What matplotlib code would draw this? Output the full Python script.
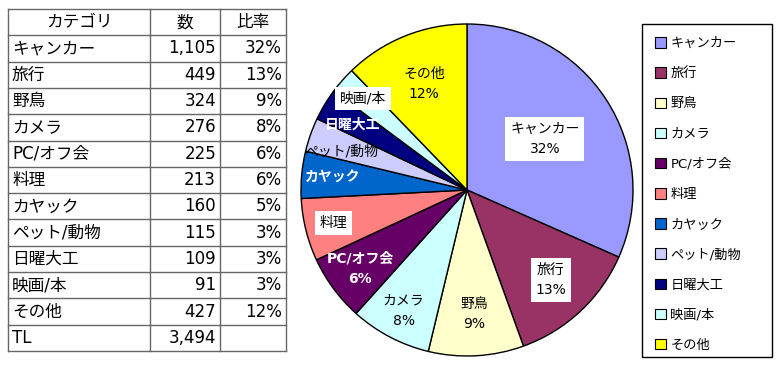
import matplotlib
matplotlib.use('Agg')
import matplotlib.pyplot as plt
from matplotlib.patches import Patch, Rectangle
import numpy as np

plt.rcParams['font.family'] = ['DejaVu Sans', 'Noto Sans CJK JP']

# ---- data ----
categories = ['キャンカー', '旅行', '野鳥', 'カメラ', 'PC/オフ会', '料理',
              'カヤック', 'ペット/動物', '日曜大工', '映画/本', 'その他']
counts = [1105, 449, 324, 276, 225, 213, 160, 115, 109, 91, 427]
colors = ['#9999FF', '#993366', '#FFFFCC', '#CCFFFF', '#660066', '#FF8080',
          '#0066CC', '#CCCCFF', '#000080', '#CCFFFF', '#FFFF00']
header = ['カテゴリ', '数', '比率']
total_label = 'TL'

total = sum(counts)
pcts = [round(100 * v / total) for v in counts]

# ---- label styles (per slice) ----
label_r = [0.56, 0.74, 0.75, 0.82, 0.80, 0.83, 0.81, 0.79, 0.795, 0.835, 0.69]
label_dang = [0, 0, 0, 0, 0, 0, 0, 2.5, 1.5, 0, 0]
show_pct = [True, True, True, True, True, False, False, False, False, False, True]
label_color = ['black', 'black', 'black', 'black', 'white', 'black',
               'white', 'black', 'white', 'black', 'black']
label_bold = [False, False, False, False, True, False, True, False, True, False, False]
label_box = [True, True, False, False, False, True, False, False, False, True, False]

W, H = 780, 370
fig = plt.figure(figsize=(7.8, 3.7), dpi=100)

# ---- table ----
col_edges = [8, 150, 220, 286]
ty0, ty1 = 9, 351
nrows = len(categories) + 2
tab = fig.add_axes([col_edges[0] / W, 1 - ty1 / H,
                    (col_edges[-1] - col_edges[0]) / W, (ty1 - ty0) / H])
tab.set_xlim(col_edges[0], col_edges[-1])
tab.set_ylim(nrows, 0)
tab.axis('off')

lc = '#666666'
for i in range(nrows + 1):
    tab.plot([col_edges[0], col_edges[-1]], [i, i], color=lc, lw=1.0, clip_on=False)
for x in col_edges:
    tab.plot([x, x], [0, nrows], color=lc, lw=1.0, clip_on=False)

fs = 12
for j, h in enumerate(header):
    tab.text((col_edges[j] + col_edges[j + 1]) / 2, 0.5, h, ha='center', va='center', fontsize=fs)
pad = 4
for i, (c, v, p) in enumerate(zip(categories, counts, pcts)):
    y = i + 1.5
    tab.text(col_edges[0] + pad, y, c, ha='left', va='center', fontsize=fs)
    tab.text(col_edges[2] - pad, y, f'{v:,}', ha='right', va='center', fontsize=fs)
    tab.text(col_edges[3] - pad, y, f'{p}%', ha='right', va='center', fontsize=fs)
y = nrows - 0.5
tab.text(col_edges[0] + pad, y, total_label, ha='left', va='center', fontsize=fs)
tab.text(col_edges[2] - pad, y, f'{total:,}', ha='right', va='center', fontsize=fs)

# ---- pie ----
cx, cy, r = 467, 190, 166
pax = fig.add_axes([(cx - r) / W, 1 - (cy + r) / H, 2 * r / W, 2 * r / H])
wedges, _ = pax.pie(counts, colors=colors, startangle=90, counterclock=False,
                    wedgeprops=dict(edgecolor='black', linewidth=1.0))
pax.set_xlim(-1, 1)
pax.set_ylim(-1, 1)

for k, w in enumerate(wedges):
    mid = np.deg2rad((w.theta1 + w.theta2) / 2 + label_dang[k])
    x = label_r[k] * np.cos(mid)
    yv = label_r[k] * np.sin(mid)
    txt = categories[k] + (f'\n{pcts[k]}%' if show_pct[k] else '')
    kw = dict(ha='center', va='center', fontsize=10, color=label_color[k],
              fontweight='bold' if label_bold[k] else 'normal', linespacing=1.55)
    if label_box[k]:
        kw['bbox'] = dict(facecolor='white', edgecolor='none', pad=3.5)
    pax.text(x, yv, txt, **kw)

# ---- legend ----
handles = [Patch(facecolor=c, edgecolor='black', linewidth=0.8) for c in colors]
lx0, lx1, ly0, ly1 = 642, 772, 24, 357
leg = fig.legend(handles, categories, loc='upper left',
                 bbox_to_anchor=(lx0 / W, 1 - ly0 / H, (lx1 - lx0) / W, 0.0001),
                 mode='expand', borderaxespad=0, fontsize=9.5,
                 handlelength=0.85, handleheight=0.85, handletextpad=0.3,
                 labelspacing=1.3, borderpad=1.0, frameon=False)
fig.patches.append(Rectangle((lx0 / W, 1 - ly1 / H), (lx1 - lx0) / W, (ly1 - ly0) / H,
                             transform=fig.transFigure, facecolor='none',
                             edgecolor='black', linewidth=1.0))

fig.savefig('out.png', dpi=100)
